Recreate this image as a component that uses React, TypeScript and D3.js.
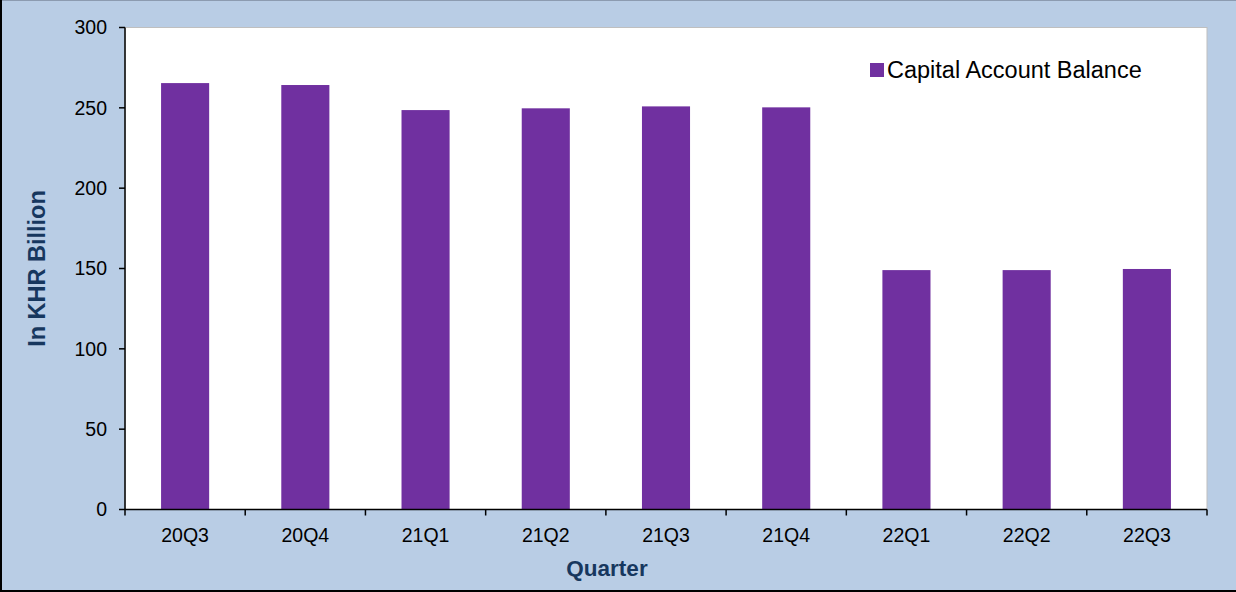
import React from "react";
import * as d3 from "d3";

const categories = ["20Q3", "20Q4", "21Q1", "21Q2", "21Q3", "21Q4", "22Q1", "22Q2", "22Q3"];
const capitalAccountBalance = [265.4, 264.2, 248.6, 249.7, 250.9, 250.3, 149.0, 149.0, 149.7];
const yTicks = [0, 50, 100, 150, 200, 250, 300];
const seriesName = "Capital Account Balance";
const xTitle = "Quarter";
const yTitle = "In KHR Billion";

const W = 1236;
const H = 592;
const plot = { left: 125, right: 1207, top: 27.5, bottom: 509.5 };
const FONT = "Liberation Sans, Arial, sans-serif";
const BAR = "#7030A0";
const TITLE = "#17375E";

export default function App() {
  const x = d3
    .scaleBand<string>()
    .domain(categories)
    .range([plot.left, plot.right])
    .paddingInner(0.6)
    .paddingOuter(0.3);
  const y = d3.scaleLinear().domain([0, 300]).range([plot.bottom, plot.top]);
  const step = x.step();
  const boundaries = categories.map((_, i) => plot.left + i * step).concat([plot.right]);

  return (
    <svg
      width={W}
      height={H}
      style={{ position: "absolute", left: 0, top: 0, display: "block" }}
      fontFamily={FONT}
    >
      <rect x={0} y={0} width={W} height={H} fill="#B9CDE5" />
      <line x1={0} x2={W} y1={0.5} y2={0.5} stroke="#8C9BB0" strokeWidth={1} />
      <line x1={1} x2={1} y1={0} y2={H} stroke="#000" strokeWidth={2} />
      <line x1={0} x2={W} y1={H - 1} y2={H - 1} stroke="#000" strokeWidth={2} />
      <rect
        x={plot.left}
        y={plot.top}
        width={plot.right - plot.left}
        height={plot.bottom - plot.top}
        fill="#fff"
        stroke="#BFBFBF"
        strokeWidth={1}
      />
      {categories.map((c, i) => (
        <rect
          key={c}
          x={x(c)}
          y={y(capitalAccountBalance[i])}
          width={x.bandwidth()}
          height={y(0) - y(capitalAccountBalance[i])}
          fill={BAR}
        />
      ))}
      {/* y axis */}
      <line x1={plot.left} x2={plot.left} y1={plot.top} y2={plot.bottom} stroke="#000" strokeWidth={1.5} />
      {yTicks.map((t) => (
        <g key={t}>
          <line x1={plot.left - 6} x2={plot.left} y1={y(t)} y2={y(t)} stroke="#000" strokeWidth={1.5} />
          <text x={107} y={y(t)} dy="0.35em" textAnchor="end" fontSize={19.5} fill="#000">
            {t}
          </text>
        </g>
      ))}
      {/* x axis */}
      <line x1={plot.left} x2={plot.right} y1={plot.bottom} y2={plot.bottom} stroke="#000" strokeWidth={1.5} />
      {boundaries.map((b, i) => (
        <line key={i} x1={b} x2={b} y1={plot.bottom} y2={plot.bottom + 6} stroke="#000" strokeWidth={1.5} />
      ))}
      {categories.map((c) => (
        <text key={c} x={(x(c) as number) + x.bandwidth() / 2} y={542} textAnchor="middle" fontSize={19.5} fill="#000">
          {c}
        </text>
      ))}
      <text x={607} y={576} textAnchor="middle" fontSize={22.5} fontWeight="bold" fill={TITLE}>
        {xTitle}
      </text>
      <text
        transform={`translate(45, ${268.5}) rotate(-90)`}
        textAnchor="middle"
        fontSize={23.5}
        fontWeight="bold"
        fill={TITLE}
      >
        {yTitle}
      </text>
      {/* legend */}
      <rect x={870} y={63} width={14} height={14} fill={BAR} />
      <text x={887} y={77.5} fontSize={23.5} fill="#000">
        {seriesName}
      </text>
    </svg>
  );
}
